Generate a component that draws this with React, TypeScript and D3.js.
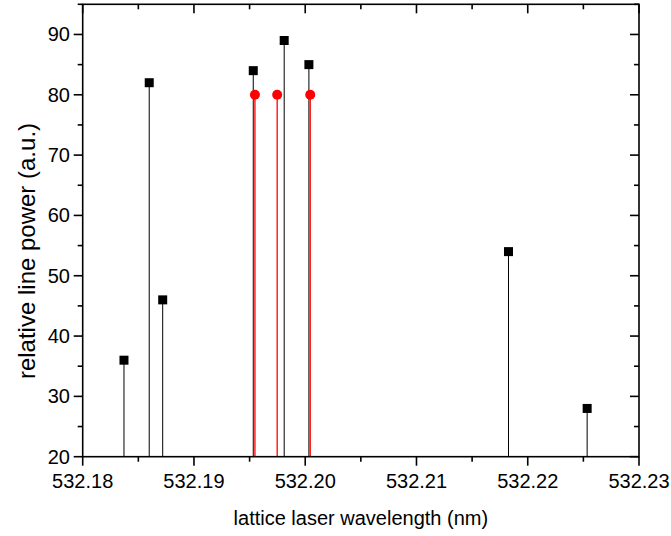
import React from "react";
import * as d3 from "d3";

const blackX = [532.18371, 532.18598, 532.18719, 532.19533, 532.19811, 532.20033, 532.21827, 532.22534];
const blackY = [36, 82, 46, 84, 89, 85, 54, 28];
const redX = [532.19548, 532.19748, 532.20045];
const redY = [80, 80, 80];
const xTicks = [532.18, 532.19, 532.2, 532.21, 532.22, 532.23];
const yTicks = [20, 30, 40, 50, 60, 70, 80, 90];
const xMinor = [532.185, 532.195, 532.205, 532.215, 532.225];
const yMinor = [25, 35, 45, 55, 65, 75, 85, 95];

export default function App() {
  const W = 671, H = 536;
  const L = 82.7, R = 639, T = 4.3, B = 456.7;
  const x = d3.scaleLinear().domain([532.18, 532.23]).range([L, R]);
  const y = d3.scaleLinear().domain([20, 95]).range([B, T]);
  const font = "Arial, 'Liberation Sans', sans-serif";
  return (
    <svg width={W} height={H} style={{ position: "absolute", left: 0, top: 0, background: "#fff" }}>
      {blackX.map((v, i) => (
        <line key={"b" + i} x1={x(v)} x2={x(v)} y1={y(20)} y2={y(blackY[i])} stroke="#000" strokeWidth={1} />
      ))}
      {redX.map((v, i) => (
        <line key={"r" + i} x1={x(v)} x2={x(v)} y1={y(20)} y2={y(redY[i])} stroke="#ff0000" strokeWidth={1.3} />
      ))}
      {blackX.map((v, i) => (
        <rect key={"bs" + i} x={x(v) - 4.5} y={y(blackY[i]) - 4.5} width={9} height={9} fill="#000" />
      ))}
      {redX.map((v, i) => (
        <circle key={"rc" + i} cx={x(v)} cy={y(redY[i])} r={5} fill="#ff0000" />
      ))}
      <rect x={L} y={T} width={R - L} height={B - T} fill="none" stroke="#000" strokeWidth={1.6} />
      {xTicks.map((t) => (
        <g key={"xt" + t}>
          <line x1={x(t)} x2={x(t)} y1={B} y2={B + 9} stroke="#000" strokeWidth={1.6} />
          <line x1={x(t)} x2={x(t)} y1={T} y2={T + 9} stroke="#000" strokeWidth={1.6} />
          <text x={x(t)} y={488} textAnchor="middle" fontFamily={font} fontSize={20}>{t.toFixed(2)}</text>
        </g>
      ))}
      {xMinor.map((t) => (
        <g key={"xm" + t}>
          <line x1={x(t)} x2={x(t)} y1={B} y2={B + 5} stroke="#000" strokeWidth={1.6} />
          <line x1={x(t)} x2={x(t)} y1={T} y2={T + 5} stroke="#000" strokeWidth={1.6} />
        </g>
      ))}
      {yTicks.map((t) => (
        <g key={"yt" + t}>
          <line x1={L - 9} x2={L} y1={y(t)} y2={y(t)} stroke="#000" strokeWidth={1.6} />
          <line x1={R - 9} x2={R} y1={y(t)} y2={y(t)} stroke="#000" strokeWidth={1.6} />
          <text x={70} y={y(t) + 7} textAnchor="end" fontFamily={font} fontSize={20}>{t}</text>
        </g>
      ))}
      {yMinor.map((t) => (
        <g key={"ym" + t}>
          <line x1={L - 5} x2={L} y1={y(t)} y2={y(t)} stroke="#000" strokeWidth={1.6} />
          <line x1={R - 5} x2={R} y1={y(t)} y2={y(t)} stroke="#000" strokeWidth={1.6} />
        </g>
      ))}
      <text x={(L + R) / 2} y={525} textAnchor="middle" fontFamily={font} fontSize={20}>lattice laser wavelength (nm)</text>
      <text transform={`translate(35,251) rotate(-90)`} textAnchor="middle" fontFamily={font} fontSize={24}>relative line power (a.u.)</text>
    </svg>
  );
}
